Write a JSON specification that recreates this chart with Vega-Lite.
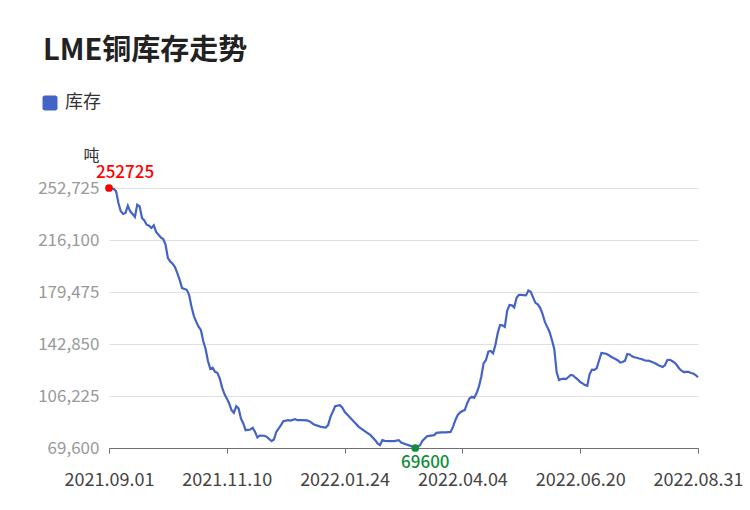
{
  "$schema": "https://vega.github.io/schema/vega-lite/v6.json",
  "width": 589,
  "height": 260,
  "autosize": {"type": "none"},
  "padding": {"left": 109, "top": 188, "right": 52, "bottom": 62},
  "background": "white",
  "config": {
    "font": "Noto Sans CJK SC",
    "view": {"stroke": null}
  },
  "title": {
    "text": "LME铜库存走势",
    "anchor": "start",
    "frame": "group",
    "orient": "top",
    "offset": 0,
    "dx": -66,
    "dy": -28,
    "fontSize": 29,
    "fontWeight": "bold",
    "color": "#222222",
    "font": "Noto Sans CJK SC"
  },
  "data": {
    "values": [
      {"i":0,"v":252725},{"i":2,"v":252100},{"i":3,"v":250400},{"i":4,"v":242200},{"i":5,"v":236300},
      {"i":6,"v":234450},{"i":7,"v":235150},{"i":8,"v":240300},{"i":9,"v":236300},{"i":10,"v":234450},
      {"i":11,"v":232300},{"i":12,"v":241000},{"i":13,"v":239800},{"i":14,"v":231600},{"i":15,"v":229900},
      {"i":16,"v":226900},{"i":17,"v":226200},{"i":18,"v":224550},{"i":19,"v":226400},{"i":20,"v":221750},
      {"i":21,"v":219850},{"i":22,"v":217900},{"i":23,"v":216800},{"i":24,"v":212800},{"i":25,"v":203400},
      {"i":26,"v":201000},{"i":27,"v":199350},{"i":28,"v":197050},{"i":29,"v":192800},{"i":30,"v":188050},
      {"i":31,"v":182200},{"i":33,"v":181000},{"i":34,"v":177500},{"i":35,"v":169200},{"i":36,"v":162650},
      {"i":37,"v":158600},{"i":38,"v":155100},{"i":39,"v":152750},{"i":40,"v":145000},{"i":41,"v":139350},
      {"i":42,"v":130900},{"i":43,"v":125250},{"i":44,"v":126150},{"i":45,"v":123300},{"i":46,"v":122600},
      {"i":47,"v":118650},{"i":48,"v":112300},{"i":49,"v":107600},{"i":50,"v":104550},{"i":51,"v":101000},
      {"i":52,"v":96300},{"i":53,"v":94400},{"i":54,"v":99100},{"i":55,"v":97500},{"i":56,"v":90450},
      {"i":57,"v":86900},{"i":58,"v":82150},{"i":60,"v":82650},{"i":61,"v":83800},{"i":62,"v":80950},
      {"i":63,"v":77000},{"i":64,"v":78400},{"i":66,"v":78150},{"i":67,"v":77450},{"i":69,"v":74400},
      {"i":70,"v":75600},{"i":71,"v":80950},{"i":73,"v":85700},{"i":74,"v":88500},{"i":76,"v":89200},
      {"i":77,"v":88950},{"i":79,"v":89950},{"i":80,"v":89200},{"i":82,"v":89200},{"i":84,"v":89000},
      {"i":85,"v":88500},{"i":87,"v":86200},{"i":90,"v":84500},{"i":92,"v":84050},{"i":93,"v":85700},
      {"i":94,"v":91550},{"i":95,"v":95100},{"i":96,"v":99100},{"i":98,"v":99800},{"i":99,"v":98200},
      {"i":100,"v":95100},{"i":102,"v":91550},{"i":104,"v":88050},{"i":106,"v":84500},{"i":109,"v":80950},
      {"i":111,"v":78650},{"i":113,"v":75100},{"i":114,"v":72800},{"i":115,"v":71600},{"i":116,"v":75100},
      {"i":117,"v":74600},{"i":119,"v":74400},{"i":121,"v":74400},{"i":123,"v":75100},{"i":124,"v":73500},
      {"i":126,"v":72300},{"i":128,"v":71100},{"i":130,"v":69600},{"i":132,"v":71600},{"i":133,"v":74600},
      {"i":135,"v":77900},{"i":136,"v":78150},{"i":138,"v":78650},{"i":139,"v":80250},{"i":141,"v":80550},
      {"i":143,"v":80550},{"i":145,"v":80950},{"i":146,"v":84500},{"i":147,"v":89200},{"i":148,"v":92750},
      {"i":149,"v":94650},{"i":150,"v":95600},{"i":151,"v":96300},{"i":152,"v":101000},{"i":153,"v":104550},
      {"i":154,"v":105700},{"i":155,"v":105000},{"i":156,"v":108100},{"i":157,"v":112750},{"i":158,"v":119800},
      {"i":159,"v":129250},{"i":160,"v":131600},{"i":161,"v":137450},{"i":162,"v":137950},{"i":163,"v":136300},
      {"i":164,"v":142200},{"i":165,"v":150650},{"i":166,"v":156300},{"i":167,"v":156000},{"i":168,"v":154900},
      {"i":169,"v":166200},{"i":170,"v":170400},{"i":171,"v":170100},{"i":172,"v":168650},{"i":173,"v":175350},
      {"i":174,"v":177500},{"i":175,"v":177500},{"i":176,"v":177300},{"i":177,"v":177100},{"i":178,"v":180500},
      {"i":179,"v":179600},{"i":180,"v":175700},{"i":181,"v":171850},{"i":182,"v":170750},{"i":183,"v":168300},
      {"i":184,"v":164050},{"i":185,"v":158400},{"i":186,"v":154900},{"i":187,"v":151350},{"i":188,"v":145700},
      {"i":189,"v":139350},{"i":190,"v":123100},{"i":191,"v":117450},{"i":192,"v":118150},{"i":193,"v":118400},
      {"i":194,"v":118150},{"i":195,"v":119600},{"i":196,"v":121000},{"i":197,"v":120650},{"i":198,"v":119100},
      {"i":199,"v":117800},{"i":200,"v":116050},{"i":201,"v":115150},{"i":202,"v":113950},{"i":203,"v":113450},
      {"i":204,"v":121700},{"i":205,"v":124750},{"i":206,"v":124650},{"i":207,"v":125750},{"i":208,"v":131250},
      {"i":209,"v":136550},{"i":210,"v":136300},{"i":211,"v":135950},{"i":212,"v":135100},{"i":213,"v":134050},
      {"i":214,"v":133000},{"i":215,"v":132300},{"i":216,"v":131250},{"i":217,"v":129800},{"i":218,"v":130150},
      {"i":219,"v":131100},{"i":220,"v":135800},{"i":221,"v":135500},{"i":222,"v":134200},{"i":223,"v":133550},
      {"i":224,"v":133150},{"i":225,"v":132650},{"i":226,"v":132300},{"i":227,"v":131600},{"i":228,"v":131050},
      {"i":229,"v":131100},{"i":230,"v":130500},{"i":231,"v":129800},{"i":232,"v":129100},{"i":233,"v":128050},
      {"i":234,"v":127350},{"i":235,"v":126650},{"i":236,"v":128050},{"i":237,"v":131600},{"i":238,"v":131700},
      {"i":239,"v":130900},{"i":240,"v":129800},{"i":241,"v":128050},{"i":242,"v":125600},{"i":243,"v":124050},
      {"i":244,"v":123100},{"i":245,"v":123200},{"i":246,"v":123300},{"i":247,"v":122400},{"i":248,"v":122050},
      {"i":249,"v":121000},{"i":250,"v":119400}
    ]
  },
  "encoding": {
    "x": {
      "field": "i",
      "type": "quantitative",
      "scale": {"domain": [0, 250], "nice": false, "zero": false},
      "axis": {
        "title": null,
        "values": [0, 50, 100, 150, 200, 250],
        "labelExpr": "datum.value == 0 ? '2021.09.01' : datum.value == 50 ? '2021.11.10' : datum.value == 100 ? '2022.01.24' : datum.value == 150 ? '2022.04.04' : datum.value == 200 ? '2022.06.20' : '2022.08.31'",
        "grid": false,
        "domainColor": "#6e7079",
        "tickColor": "#6e7079",
        "tickSize": 5,
        "labelPadding": 18,
        "labelFontSize": 18,
        "labelColor": "#444444",
        "labelFlush": false,
        "labelOverlap": false
      }
    },
    "y": {
      "field": "v",
      "type": "quantitative",
      "scale": {"domain": [69600, 252725], "nice": false, "zero": false},
      "axis": {
        "title": "吨",
        "titleAngle": 0,
        "titleX": -18,
        "titleY": -33,
        "titleAlign": "center",
        "titleBaseline": "middle",
        "titleFontSize": 16,
        "titleFontWeight": "normal",
        "titleColor": "#333333",
        "values": [69600, 106225, 142850, 179475, 216100, 252725],
        "format": ",d",
        "domain": false,
        "ticks": false,
        "gridColor": "#e0e0e0",
        "labelFontSize": 17,
        "labelColor": "#999999",
        "labelPadding": 10
      }
    }
  },
  "layer": [
    {
      "mark": {"type": "line", "strokeWidth": 2.2, "interpolate": "linear"},
      "encoding": {
        "color": {
          "datum": "库存",
          "type": "nominal",
          "scale": {"range": ["#4463c6"]},
          "legend": {
            "orient": "none",
            "legendX": -68,
            "legendY": -94,
            "title": null,
            "labelFontSize": 18,
            "labelColor": "#333333",
            "labelOffset": 6,
            "symbolType": "M-0.7,-1H0.7A0.3,0.3 0 0 1 1,-0.7V0.7A0.3,0.3 0 0 1 0.7,1H-0.7A0.3,0.3 0 0 1 -1,0.7V-0.7A0.3,0.3 0 0 1 -0.7,-1Z",
            "symbolSize": 225,
            "encode": {
              "symbols": {"update": {"fill": {"value": "#4463c6"}, "stroke": {"value": "transparent"}, "strokeWidth": {"value": 0}}}
            }
          }
        }
      }
    },
    {
      "transform": [
        {"joinaggregate": [{"op": "max", "field": "v", "as": "vmax"}]},
        {"filter": "datum.v == datum.vmax"}
      ],
      "layer": [
        {"mark": {"type": "point", "filled": true, "size": 60, "color": "#ff0000", "opacity": 1}},
        {"mark": {"type": "text", "color": "#ff0000", "fontSize": 17, "fontWeight": 500, "dx": 16, "dy": -15, "align": "center", "baseline": "middle"},
         "encoding": {"text": {"field": "v", "type": "quantitative", "format": "d"}}}
      ]
    },
    {
      "transform": [
        {"joinaggregate": [{"op": "min", "field": "v", "as": "vmin"}]},
        {"filter": "datum.v == datum.vmin"}
      ],
      "layer": [
        {"mark": {"type": "point", "filled": true, "size": 60, "color": "#118c3a", "opacity": 1}},
        {"mark": {"type": "text", "color": "#118c3a", "fontSize": 17, "fontWeight": 500, "dx": 10, "dy": 15, "align": "center", "baseline": "middle"},
         "encoding": {"text": {"field": "v", "type": "quantitative", "format": "d"}}}
      ]
    }
  ]
}
